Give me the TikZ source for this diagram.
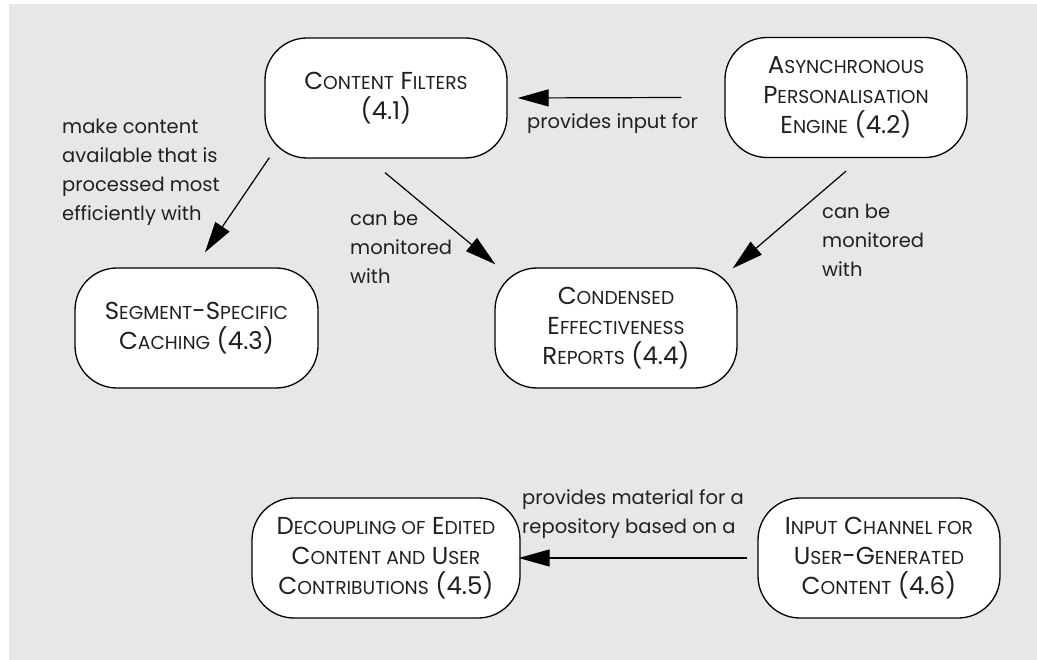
\documentclass[tikz,border=0pt]{standalone}
\usepackage{fontspec}
\setmainfont{Poppins}
\usetikzlibrary{arrows.meta}
\definecolor{bggray}{HTML}{E6E7E7}
\definecolor{ink}{HTML}{231F20}
\newcommand\boxfont{\fontsize{24.5}{30}\selectfont}
\newcommand\lblfont{\fontsize{19.5}{29}\selectfont}
% fake small capitals: the rest of a word set smaller
\newcommand\sCap[1]{{\fontsize{18.7}{30}\selectfont #1}}

\begin{document}
\begin{tikzpicture}[x=1pt,y=-1pt,
  concept/.style={draw=black, line width=1.3pt, fill=white, rounded corners=42pt,
    minimum width=242pt, minimum height=120pt, align=center, text=ink,
    font=\boxfont, inner sep=0pt},
  link/.style={draw=black, line width=1.2pt, -{Triangle[length=31pt,width=17pt]}},
  lbl/.style={anchor=north west, inner sep=0pt, align=left, text=ink, font=\lblfont}]

\useasboundingbox (0,0) rectangle (1037,660);
\fill[bggray] (9,4) rectangle (1037,660);

% concepts
\node[concept] (cf) at (386,98) {C\sCap{ONTENT} F\sCap{ILTERS}\\(4.1)};
\node[concept] (async) at (846,97.5) {A\sCap{SYNCHRONOUS}\\P\sCap{ERSONALISATION}\\E\sCap{NGINE} (4.2)};
\node[concept, minimum width=243pt] (seg) at (196.5,328) {S\sCap{EGMENT}-S\sCap{PECIFIC}\\C\sCap{ACHING} (4.3)};
\node[concept] (cond) at (616,328) {C\sCap{ONDENSED}\\E\sCap{FFECTIVENESS}\\R\sCap{EPORTS} (4.4)};
\node[concept, minimum width=268pt] (dec) at (386,558) {D\sCap{ECOUPLING OF} E\sCap{DITED}\\C\sCap{ONTENT AND} U\sCap{SER}\\C\sCap{ONTRIBUTIONS} (4.5)};
\node[concept] (inp) at (879,558) {I\sCap{NPUT} C\sCap{HANNEL FOR}\\U\sCap{SER}-G\sCap{ENERATED}\\C\sCap{ONTENT} (4.6)};

% relations
\draw[link] ([shift={(-43,0)}]async.west) -- ([shift={(10,0)}]cf.east);
\draw[link] ([shift={(5,-1)}]cf.south west) -- ([shift={(8.5,-15)}]seg.north);
\draw[link] ([shift={(-1,14)}]cf.south) -- ([shift={(1,-3)}]cond.north west);
\draw[link] ([shift={(0,13)}]async.south) -- ([shift={(-5,1)}]cond.north east);
\draw[link] ([shift={(-10,0)}]inp.west) -- ([shift={(-2,0)}]dec.east);

% relation labels
\node[lbl] (l1) at (62,119) {make content\\available that is\\processed most\\efficiently with};
\node[lbl] (l2) at (350,211) {can be\\monitored\\with};
\node[lbl] (l3) at (822,204) {can be\\monitored\\with};
\node[lbl] (l4) at (527,113) {provides input for};
\node[lbl] (l5) at (522,489) {provides material for a\\repository based on a};
\end{tikzpicture}
\end{document}
